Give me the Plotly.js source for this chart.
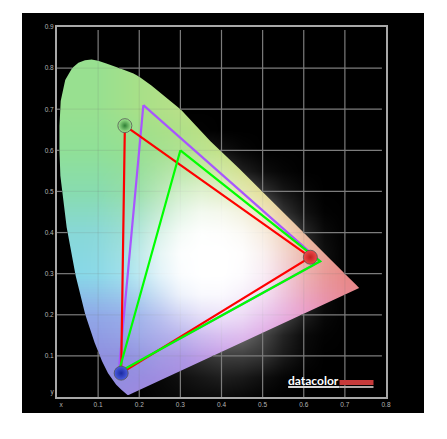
<!DOCTYPE html>
<html><head><meta charset="utf-8">
<script src="https://cdn.plot.ly/plotly-3.0.1.min.js"></script>
<style>html,body{margin:0;padding:0;background:#fff}#c{width:447px;height:439px}</style>
</head><body><div id="c"></div>
<script>
// CIE outline
const locusX=[0.1741,0.1714,0.1644,0.1566,0.1440,0.1241,0.1096,0.0913,0.0687,0.0454,0.0235,0.0082,0.0060,0.0060,0.0090,0.0200,0.0270,0.0370,0.0520,0.0680,0.0840,0.1000,0.1200,0.1540,0.1860,0.2000,0.2296,0.3016,0.3731,0.4441,0.5125,0.5752,0.6270,0.6658,0.6915,0.7079,0.7260,0.7347,0.1741];
const locusY=[0.0050,0.0051,0.0109,0.0177,0.0297,0.0578,0.0868,0.1327,0.2007,0.2950,0.4127,0.5384,0.6000,0.6600,0.7200,0.7710,0.7830,0.8000,0.8130,0.8190,0.8210,0.8180,0.8110,0.7990,0.7870,0.7790,0.7580,0.6990,0.6220,0.5547,0.4866,0.4242,0.3725,0.3340,0.3083,0.2920,0.2740,0.2653,0.0050];
// primaries
const redTriX=[0.165,0.156,0.616,0.165], redTriY=[0.660,0.058,0.340,0.660];
const purpleTriX=[0.21,0.15,0.64,0.21], purpleTriY=[0.71,0.06,0.33,0.71];
const greenTriX=[0.30,0.15,0.64,0.30], greenTriY=[0.60,0.06,0.33,0.60];
// axes
const xGrid=[0.1,0.2,0.3,0.4,0.5,0.6,0.7];
const yGrid=[0.1,0.2,0.3,0.4,0.5,0.6,0.7,0.8];
const xTickVals=[0.01,0.1,0.2,0.3,0.4,0.5,0.6,0.7,0.8];
const xTickText=['x','0.1','0.2','0.3','0.4','0.5','0.6','0.7','0.8'];
const yTickVals=[0.012,0.1,0.2,0.3,0.4,0.5,0.6,0.7,0.8,0.9];
const yTickText=['y','0.1','0.2','0.3','0.4','0.5','0.6','0.7','0.8','0.9'];
// base colours, rows y=0..0.9, columns x=0..0.8
const hueRows=[
['9090e0','9090e0','a088e0','a888e0','b880e0','c880d8','d880d0','e080c0','e080c0'],
['9090e0','9090e0','9090e0','a088e0','b880e0','d080d8','e080c8','e080b0','e080b0'],
['90a8e8','90a8e8','90a8e8','a0a0e8','c098e8','d898e0','e890c8','e88aa0','e88898'],
['88d8e8','88d8e8','88d8e8','98c8e8','c0c0e8','e8b8d8','e8a0a0','e88a88','e88880'],
['88d8d8','88d8d8','88d8c8','98d8b0','d0d8b0','e8c8a0','e8b090','e8a088','e88880'],
['88dcb0','88dcb0','90dca0','a8e098','c8e090','e0d880','e8c080','e8a088','e88880'],
['90e098','90e098','98e090','a8e088','c0e080','d8e080','e8d080','e8a088','e88880'],
['98e090','98e090','a8e088','b8e088','c8e080','d8e080','e8d080','e8a088','e88880'],
['98e090','98e090','a8e088','b8e088','c8e080','d8e080','e8d080','e8a088','e88880'],
['98e090','98e090','a8e088','b8e088','c8e080','d8e080','e8d080','e8a088','e88880']];
// white glow strength (percent), rows y=0..0.7 step .05, columns x=0..0.8 step .05
const glowX=[0,.05,.1,.15,.2,.25,.3,.35,.4,.45,.5,.55,.6,.65,.7,.75,.8];
const glowY=[0,.05,.1,.15,.2,.25,.3,.35,.4,.45,.5,.55,.6,.65,.7];
const glow=[
[0,0,0,0,0,2,3,4,4,3,1,0,0,0,0,0,0],
[0,0,0,0,1,3,6,9,12,10,6,2,0,0,0,0,0],
[0,0,0,1,6,12,14,20,24,24,20,10,3,0,0,0,0],
[0,0,0,5,14,22,30,40,45,42,28,14,4,1,0,0,0],
[0,0,1,6,18,34,54,68,72,65,45,28,12,3,0,0,0],
[0,0,3,12,30,56,82,92,92,82,64,38,16,4,0,0,0],
[0,0,4,18,44,75,95,100,100,94,74,44,20,5,0,0,0],
[0,0,4,18,46,78,97,100,100,96,76,46,20,6,0,0,0],
[0,0,3,14,38,68,90,98,96,88,68,40,16,4,0,0,0],
[0,0,2,10,26,48,72,84,80,68,44,20,7,1,0,0,0],
[0,0,1,5,14,30,50,58,50,36,20,9,3,0,0,0,0],
[0,0,0,2,6,16,26,30,24,12,5,2,0,0,0,0,0],
[0,0,0,0,2,5,8,10,6,2,0,0,0,0,0,0,0],
[0,0,0,0,0,0,1,1,0,0,0,0,0,0,0,0,0],
[0,0,0,0,0,0,0,0,0,0,0,0,0,0,0,0,0]];

const XMAX=0.8,YMAX=0.9;
function huePicture(){
  const h=hueRows.length,w=hueRows[0].length;
  const cv=document.createElement('canvas');cv.width=w;cv.height=h;
  const g=cv.getContext('2d');
  hueRows.forEach((r,j)=>r.forEach((c,i)=>{g.fillStyle='#'+c;g.fillRect(i,h-1-j,1,1)}));
  return cv.toDataURL('image/png');
}
function crossings(a,b,t0){
  const t=t0+1e-7,out=[];
  for(let i=0;i<a.length-1;i++){
    const p=a[i],q=a[i+1];
    if((p-t)*(q-t)<0) out.push(b[i]+(t-p)/(q-p)*(b[i+1]-b[i]));
  }
  return out.sort((m,n)=>m-n);
}
function allLines(){
  const x=[],y=[];
  xGrid.forEach(t=>{x.push(t,t,null);y.push(0,0.893,null)});
  yGrid.forEach(t=>{x.push(0,0.79,null);y.push(t,t,null)});
  return {x,y};
}
function outsideLines(){
  const x=[],y=[];
  xGrid.forEach(t=>{
    const c=crossings(locusX,locusY,t);
    if(c.length){x.push(t,t,null,t,t,null);y.push(0,c[0],null,c[c.length-1],0.893,null)}
    else{x.push(t,t,null);y.push(0,0.893,null)}
  });
  yGrid.forEach(t=>{
    const c=crossings(locusY,locusX,t);
    if(c.length){x.push(0,c[0],null,c[c.length-1],0.79,null);y.push(t,t,null,t,t,null)}
    else{x.push(0,0.79,null);y.push(t,t,null)}
  });
  return {x,y};
}
const inner=allLines(), outer=outsideLines();
const top2={xaxis:'x2',yaxis:'y2',hoverinfo:'skip',showlegend:false};
const tri=(x,y,c)=>Object.assign({type:'scatter',mode:'lines',x,y,line:{color:c,width:2.2,simplify:false}},top2);
const ball=(x,y,c,e)=>Object.assign({type:'scatter',mode:'markers',x:[x],y:[y],
  marker:{size:14,color:c,gradient:{type:'radial',color:e},line:{color:'#555',width:0.8}}},top2);

const data=[
 {type:'scatter',mode:'lines',x:inner.x,y:inner.y,line:{color:'rgba(110,110,110,0.14)',width:1.2},hoverinfo:'skip',showlegend:false},
 {type:'scatter',mode:'lines',
  x:[0,XMAX,XMAX,0,0].concat(locusX).concat([0]),
  y:[0,0,YMAX,YMAX,0].concat(locusY).concat([0]),
  fill:'toself',fillcolor:'#000',line:{width:0,simplify:false},hoverinfo:'skip',showlegend:false},
 Object.assign({type:'heatmap',x:glowX,y:glowY,z:glow,zmin:0,zmax:100,zsmooth:'best',showscale:false,
  colorscale:[[0,'rgba(255,255,255,0)'],[1,'rgba(255,255,255,1)']]},top2),
 Object.assign({type:'scatter',mode:'lines',x:outer.x,y:outer.y,line:{color:'#7c7c7c',width:1.2}},top2),
 tri(purpleTriX,purpleTriY,'#a855ff'),
 tri(redTriX,redTriY,'#ff0000'),
 tri(greenTriX,greenTriY,'#00ff00'),
 ball(redTriX[0],redTriY[0],'#a0e890','#2f7f35'),
 ball(redTriX[1],redTriY[1],'#4a5ce0','#1a2aa0'),
 ball(redTriX[2],redTriY[2],'#f04a4a','#c02020')
];
const axisBase={showgrid:false,zeroline:false,showline:true,mirror:true,linecolor:'#a8a8a8',linewidth:2,ticks:'',
  tickmode:'array',tickfont:{family:'Liberation Sans, Arial, sans-serif',size:6.5,color:'#b4b4b4'},tickangle:0,fixedrange:true};
const layout={width:447,height:439,margin:{l:57,r:61,t:27,b:42,pad:0},paper_bgcolor:'#fff',plot_bgcolor:'rgba(0,0,0,0)',showlegend:false,
 xaxis:Object.assign({},axisBase,{range:[0,XMAX],tickvals:xTickVals,ticktext:xTickText}),
 yaxis:Object.assign({},axisBase,{range:[0,YMAX],tickvals:yTickVals,ticktext:yTickText}),
 xaxis2:{overlaying:'x',range:[0,XMAX],visible:false,fixedrange:true},
 yaxis2:{overlaying:'y',range:[0,YMAX],visible:false,fixedrange:true},
 images:[{source:huePicture(),xref:'x',yref:'y',x:-0.05,y:0.95,sizex:0.9,sizey:1.0,sizing:'stretch',xanchor:'left',yanchor:'top',layer:'below'}],
 shapes:[
  {type:'rect',xref:'paper',yref:'paper',x0:(22-57)/329,x1:(424-57)/329,y0:(397-413)/370,y1:(397-13)/370,fillcolor:'#000',line:{width:0},layer:'below'},
  {type:'rect',xref:'x',yref:'y',x0:0.562,x1:0.687,y0:0.0219,y1:0.0268,fillcolor:'#d8d8d8',line:{width:0},layer:'above'},
  {type:'rect',xref:'x',yref:'y',x0:0.687,x1:0.7696,y0:0.0219,y1:0.0268,fillcolor:'#b0a8a6',line:{width:0},layer:'above'},
  {type:'rect',xref:'x',yref:'y',x0:0.687,x1:0.7696,y0:0.029,y1:0.0414,fillcolor:'#c63a3a',line:{width:0},layer:'above'}
 ],
 annotations:[{xref:'x',yref:'y',x:0.562,y:0.039,xanchor:'left',yanchor:'middle',showarrow:false,text:'<b>datacolor</b>',
  font:{family:'Lato, Liberation Sans, sans-serif',size:12,color:'#fff'},borderpad:0,borderwidth:0}]
};
Plotly.newPlot('c',data,layout,{staticPlot:true,displayModeBar:false});
</script></body></html>
